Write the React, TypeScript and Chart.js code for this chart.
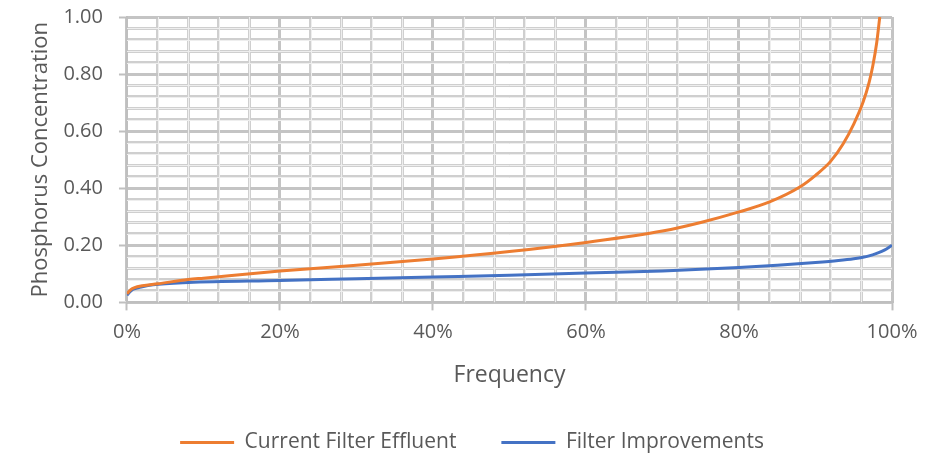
import React, { useEffect, useRef } from "react";
import { Chart, registerables } from "chart.js";

Chart.register(...registerables);

const orangeFreq = [0, 0.5, 1, 2, 4, 8, 10, 20, 30, 40, 50, 60, 70, 75, 80, 84, 88, 90, 92, 93.6, 95, 96.2, 97, 97.5, 98, 98.4];
const orangeValues = [0.03, 0.045, 0.052, 0.058, 0.065, 0.08, 0.085, 0.11, 0.13, 0.152, 0.178, 0.21, 0.25, 0.28, 0.317, 0.352, 0.405, 0.445, 0.495, 0.555, 0.625, 0.7, 0.77, 0.83, 0.91, 1.0];

const blueFreq = [0, 0.3, 0.8, 2, 3.4, 8, 20, 30, 40, 50, 60, 70, 80, 85, 90, 93, 95, 96.2, 97, 98, 99, 100];
const blueValues = [0.025, 0.035, 0.046, 0.055, 0.062, 0.07, 0.077, 0.083, 0.089, 0.095, 0.103, 0.11, 0.122, 0.13, 0.14, 0.147, 0.153, 0.158, 0.163, 0.172, 0.183, 0.2];

const seriesNames = ["Current Filter Effluent", "Filter Improvements"];
const seriesColors = ["#ED7D31", "#4472C4"];

const xMajor = 20;
const xMinor = 4;
const yMajor = 0.2;
const yMinor = 0.04;

const FONT = "'Open Sans', 'Noto Sans', sans-serif";
const TEXT = "#595959";

const isMajor = (v: number, step: number) => Math.abs(Math.round(v / step) * step - v) < 1e-6;

const gridPlugin = {
  id: "doubleGrid",
  beforeDatasetsDraw(chart: any) {
    const { ctx, chartArea, scales } = chart;
    ctx.save();
    ctx.beginPath();
    ctx.rect(chartArea.left, chartArea.top, chartArea.right - chartArea.left, chartArea.bottom - chartArea.top);
    ctx.clip();
    ctx.strokeStyle = "#eeeeee";
    ctx.lineWidth = 1;
    scales.x.ticks.forEach((t: any) => {
      if (isMajor(t.value, xMajor)) return;
      const px = Math.round(scales.x.getPixelForValue(t.value)) + 0.5;
      ctx.beginPath();
      ctx.moveTo(px, chartArea.top);
      ctx.lineTo(px, chartArea.bottom);
      ctx.stroke();
    });
    scales.y.ticks.forEach((t: any) => {
      if (isMajor(t.value, yMajor)) return;
      const py = Math.round(scales.y.getPixelForValue(t.value)) + 0.5;
      ctx.beginPath();
      ctx.moveTo(chartArea.left, py);
      ctx.lineTo(chartArea.right, py);
      ctx.stroke();
    });
    ctx.restore();
  },
};

export default function App() {
  const ref = useRef<HTMLCanvasElement>(null);
  useEffect(() => {
    document.body.style.margin = "0";
    const chart = new Chart(ref.current!, {
      type: "line",
      data: {
        datasets: [
          {
            label: seriesNames[0],
            data: orangeFreq.map((f, i) => ({ x: f, y: orangeValues[i] })),
            borderColor: seriesColors[0],
            backgroundColor: seriesColors[0],
            borderWidth: 3,
            pointRadius: 0,
            cubicInterpolationMode: "monotone",
          },
          {
            label: seriesNames[1],
            data: blueFreq.map((f, i) => ({ x: f, y: blueValues[i] })),
            borderColor: seriesColors[1],
            backgroundColor: seriesColors[1],
            borderWidth: 3,
            pointRadius: 0,
            cubicInterpolationMode: "monotone",
          },
        ],
      },
      options: {
        animation: false,
        responsive: false,
        maintainAspectRatio: false,
        layout: { padding: { top: 17, left: 52, right: 35, bottom: -8 } },
        plugins: {
          tooltip: { enabled: false },
          legend: {
            position: "bottom",
            labels: {
              boxWidth: 54,
              boxHeight: 3,
              padding: 45,
              color: TEXT,
              font: { family: FONT, size: 21 },
              generateLabels: (c: any) =>
                (Chart.defaults.plugins.legend.labels as any)
                  .generateLabels(c)
                  .map((l: any) => ({ ...l, lineWidth: 0, fillStyle: l.strokeStyle })),
            },
          },
        },
        scales: {
          x: {
            type: "linear",
            min: 0,
            max: 100,
            afterFit: (s: any) => {
              s.paddingRight = 0;
            },
            ticks: {
              stepSize: xMinor,
              autoSkip: false,
              maxRotation: 0,
              padding: 10,
              color: TEXT,
              font: { family: FONT, size: 20 },
              callback: (v: any) => (isMajor(Number(v), xMajor) ? `${v}%` : ""),
            },
            grid: {
              lineWidth: 3,
              color: (c: any) => (isMajor(c.tick?.value ?? 0, xMajor) ? "#c4c4c4" : "#cfcfcf"),
              tickLength: 8,
              tickColor: (c: any) => (isMajor(c.tick?.value ?? 0, xMajor) ? "#bfbfbf" : "rgba(0,0,0,0)"),
              tickWidth: 2,
            },
            border: { color: "#bfbfbf", width: 2 },
            title: {
              display: true,
              text: "Frequency",
              color: TEXT,
              font: { family: FONT, size: 23 },
              padding: { top: 7, bottom: -2 },
            },
          },
          y: {
            min: 0,
            max: 1,
            afterFit: (s: any) => {
              s.paddingTop = 0;
            },
            ticks: {
              stepSize: yMinor,
              autoSkip: false,
              padding: 16,
              color: TEXT,
              font: { family: FONT, size: 20 },
              callback: (v: any) => (isMajor(Number(v), yMajor) ? Number(v).toFixed(2) : ""),
            },
            grid: {
              lineWidth: 3,
              color: (c: any) => (isMajor(c.tick?.value ?? 0, yMajor) ? "#c4c4c4" : "#cfcfcf"),
              tickLength: 8,
              tickColor: (c: any) => (isMajor(c.tick?.value ?? 0, yMajor) ? "#bfbfbf" : "rgba(0,0,0,0)"),
              tickWidth: 2,
            },
            border: { color: "#bfbfbf", width: 2 },
            title: {
              display: true,
              text: "Phosphorus Concentration",
              color: TEXT,
              font: { family: FONT, size: 22 },
              padding: { top: -24, bottom: -7 },
            },
          },
        },
      },
      plugins: [gridPlugin],
    } as any);
    return () => chart.destroy();
  }, []);
  return (
    <div style={{ width: 927, height: 455 }}>
      <canvas ref={ref} width={927} height={455} style={{ display: "block" }} />
    </div>
  );
}
